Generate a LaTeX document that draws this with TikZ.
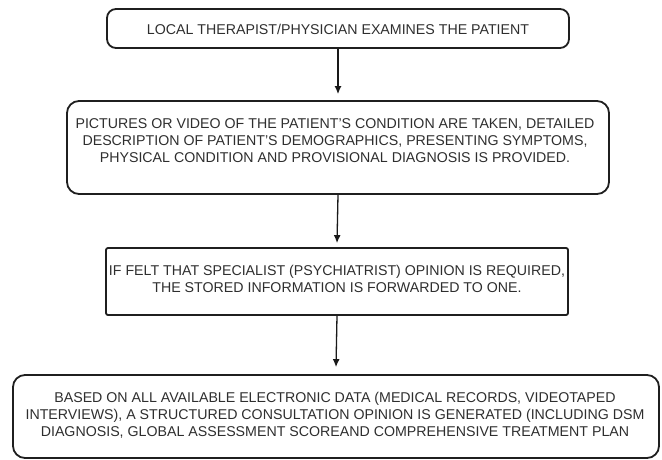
\documentclass[tikz,border=0pt]{standalone}
\usepackage{fontspec}
\setmainfont{Liberation Sans}
\usetikzlibrary{arrows.meta}
\begin{document}
\begin{tikzpicture}[x=1pt,y=-1pt,
  box/.style={draw=black!88, line width=1.8pt, inner sep=0pt, rounded corners=9pt},
  txt/.style={align=center, text=black!82, font=\fontsize{14.2}{17}\selectfont, inner sep=0pt},
  flow/.style={draw=black!90, line width=1.3pt, -{Latex[length=8pt,width=7pt]}}]
\useasboundingbox (0,0) rectangle (662,460);
% process boxes
\node[box, minimum width=462pt, minimum height=39pt] (b1) at (338,28.5) {};
\node[box, minimum width=542pt, minimum height=93pt, rounded corners=12pt] (b2) at (338,147.5) {};
\node[box, minimum width=462pt, minimum height=67pt, rounded corners=2pt] (b3) at (337,281.5) {};
\node[box, minimum width=646pt, minimum height=83pt, rounded corners=12pt] (b4) at (336,416.5) {};
% box texts
\node[txt] (t1) at (338,29) {LOCAL THERAPIST/PHYSICIAN EXAMINES THE PATIENT};
\node[txt] (t2) at (335,140.5) {PICTURES OR VIDEO OF THE PATIENT'S CONDITION ARE TAKEN, DETAILED\\DESCRIPTION OF PATIENT’S DEMOGRAPHICS, PRESENTING SYMPTOMS,\\PHYSICAL CONDITION AND PROVISIONAL DIAGNOSIS IS PROVIDED.};
\node[txt] (t3) at (337,279) {IF FELT THAT SPECIALIST (PSYCHIATRIST) OPINION IS REQUIRED,\\THE STORED INFORMATION IS FORWARDED TO ONE.};
\node[txt] (t4) at (335,415.5) {BASED ON ALL AVAILABLE ELECTRONIC DATA (MEDICAL RECORDS, VIDEOTAPED\\INTERVIEWS), A STRUCTURED CONSULTATION OPINION IS GENERATED (INCLUDING DSM\\DIAGNOSIS, GLOBAL ASSESSMENT SCOREAND COMPREHENSIVE TREATMENT PLAN};
% connectors
\draw[flow] (b1.south) -- ([yshift=6pt]b2.north);
\draw[flow] (b2.south) -- ([yshift=4pt]b3.north);
\draw[flow] (b3.south) -- ([yshift=7pt]b4.north);
\end{tikzpicture}
\end{document}
